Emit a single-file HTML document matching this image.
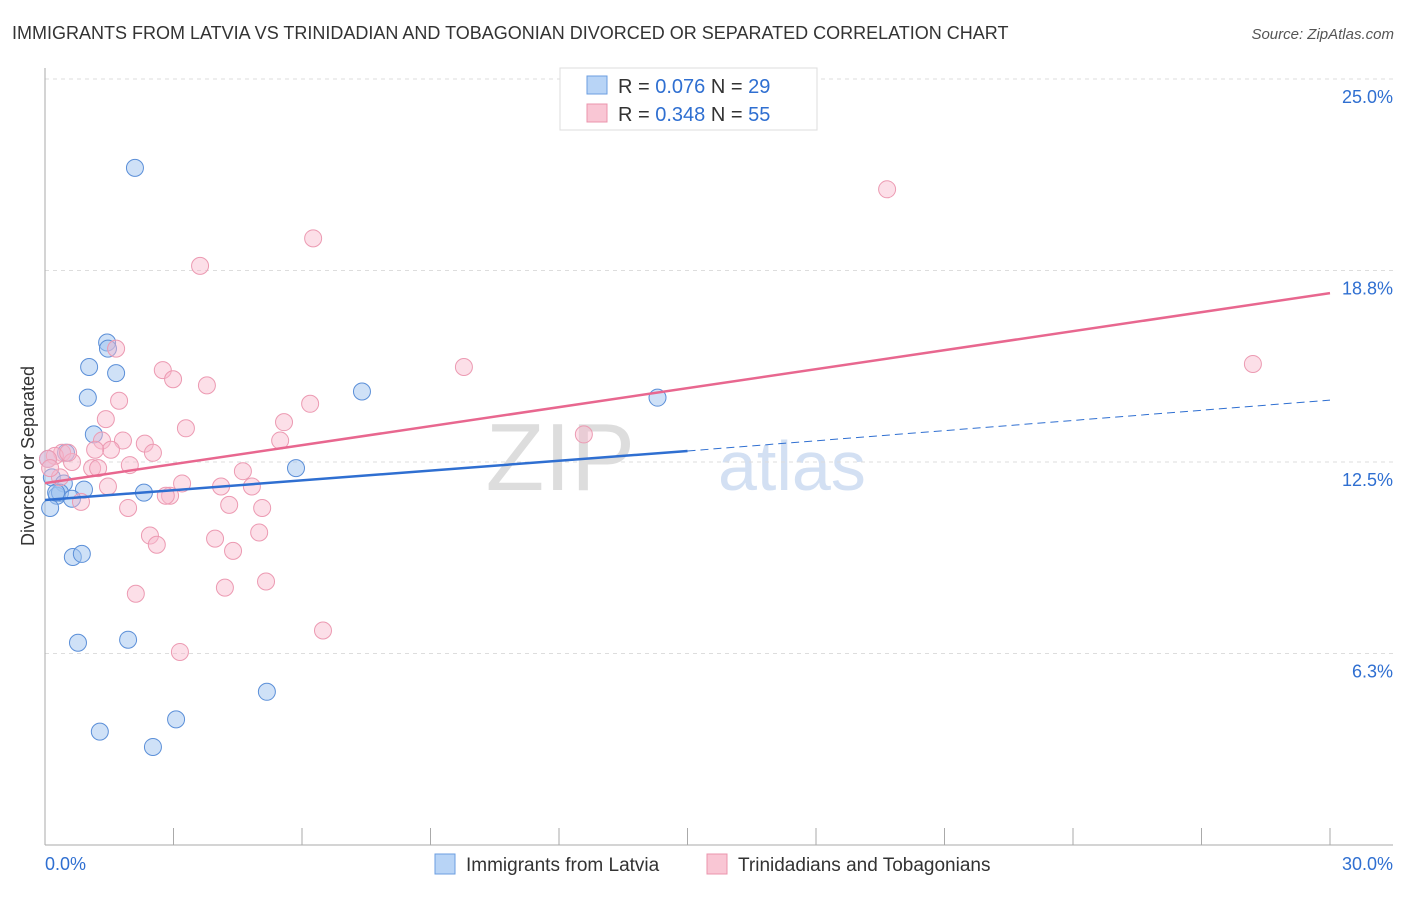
<!DOCTYPE html>
<html><head><meta charset="utf-8"><style>
body{margin:0;background:#fff;font-family:"Liberation Sans",sans-serif}
svg text{font-family:"Liberation Sans",sans-serif}
</style></head><body>
<svg id="c" width="1406" height="892" xmlns="http://www.w3.org/2000/svg">
<text x="12" y="39" font-size="18" fill="#333">IMMIGRANTS FROM LATVIA VS TRINIDADIAN AND TOBAGONIAN DIVORCED OR SEPARATED CORRELATION CHART</text>
<text x="1394" y="39" font-size="15" fill="#555" font-style="italic" text-anchor="end">Source: ZipAtlas.com</text>
<text x="0" y="0" font-size="18" fill="#333" transform="translate(34,456) rotate(-90)" text-anchor="middle">Divorced or Separated</text>
<text x="635" y="490" font-size="96" fill="#ddd" font-family="Liberation Serif" text-anchor="end">ZIP</text>
<text x="718" y="490" font-size="70" fill="#d3e0f3">atlas</text>
<g id="grid"></g><g id="axes"></g><g id="pts"></g><g id="lines"></g>
<g>
<rect x="560" y="68" width="257" height="62" fill="#fff" stroke="#ddd"/>
<rect x="587" y="76" width="20" height="18" fill="#b8d4f6" stroke="#6b9ee0"/>
<rect x="587" y="104" width="20" height="18" fill="#f9c6d4" stroke="#eb94ad"/>
<text x="618" y="93" font-size="20" fill="#333">R = <tspan fill="#2f6fd1">0.076</tspan>   N = <tspan fill="#2f6fd1">29</tspan></text>
<text x="618" y="121" font-size="20" fill="#333">R = <tspan fill="#2f6fd1">0.348</tspan>   N = <tspan fill="#2f6fd1">55</tspan></text>
</g>
<g>
<rect x="435" y="854" width="20" height="20" fill="#b8d4f6" stroke="#6b9ee0"/>
<text x="466" y="871" font-size="19" fill="#333">Immigrants from Latvia</text>
<rect x="707" y="854" width="20" height="20" fill="#f9c6d4" stroke="#eb94ad"/>
<text x="738" y="871" font-size="19" fill="#333">Trinidadians and Tobagonians</text>
</g>
</svg>
<script>
const yTicks=[6.25,12.5,18.75,25];
const yTickLabels=["6.3%","12.5%","18.8%","25.0%"];
const xTickLabels=["0.0%","30.0%"];
const blueX=[2.1,1.45,1.47,1.03,1.66,1.0,7.4,1.14,14.3,5.86,0.49,0.16,0.44,0.91,0.28,0.35,0.63,2.31,0.12,0.65,0.86,0.77,1.94,5.18,3.06,1.28,2.52,0.07,0.26];
const blueY=[22.1,16.4,16.2,15.6,15.4,14.6,14.8,13.4,14.6,12.3,12.8,12.0,11.8,11.6,11.4,11.5,11.3,11.5,11.0,9.4,9.5,6.6,6.7,5.0,4.1,3.7,3.2,12.6,11.5];
const pinkX=[19.66,6.26,3.62,1.66,9.78,28.2,2.75,2.99,3.78,1.73,6.19,1.42,3.29,5.58,1.33,1.82,2.33,5.49,2.52,1.54,1.17,0.4,0.23,0.07,0.63,1.98,1.1,1.24,4.62,0.35,3.2,4.11,4.83,2.92,2.82,0.84,4.3,1.94,5.07,2.45,5.0,2.61,3.97,4.39,5.16,4.2,2.12,6.49,3.15,12.58,0.54,0.12,1.47];
const pinkY=[21.4,19.8,18.9,16.2,15.6,15.7,15.5,15.2,15.0,14.5,14.4,13.9,13.6,13.8,13.2,13.2,13.1,13.2,12.8,12.9,12.9,12.8,12.7,12.6,12.5,12.4,12.3,12.3,12.2,12.0,11.8,11.7,11.7,11.4,11.4,11.2,11.1,11.0,11.0,10.1,10.2,9.8,10.0,9.6,8.6,8.4,8.2,7.0,6.3,13.4,12.8,12.3,11.7];
const blueLine=[11.26,12.86,14.52]; const blueLineX=[0,15,30];
const pinkLine=[11.81,18.01]; const pinkLineX=[0,30];
const NS="http://www.w3.org/2000/svg";
const X=v=>45+v*(1285/30), Y=v=>845-v*30.64;
function mk(tag,attrs,parent){const e=document.createElementNS(NS,tag);for(const k in attrs)e.setAttribute(k,attrs[k]);document.getElementById(parent).appendChild(e);return e;}
yTicks.forEach((t,i)=>{
 const g=mk('line',{x1:45,x2:1393,y1:Y(t),y2:Y(t),stroke:'#ddd','stroke-dasharray':'4,4'},'grid');
 
 
 const tx=mk('text',{x:1393,y:Y(t)+24,'font-size':18,fill:'#2f6fd1','text-anchor':'end'},'grid');
 tx.textContent=yTickLabels[i];
 
 
});
const ax=mk('line',{x1:45,x2:45,y1:68,y2:845,stroke:'#aaa'},'axes');


const bx=mk('line',{x1:45,x2:1393,y1:845,y2:845,stroke:'#aaa'},'axes');


for(let i=0;i<=10;i++){
 const t=mk('line',{x1:X(i*3),x2:X(i*3),y1:828,y2:845,stroke:'#aaa'},'axes');
 
 
}
[[0,'start'],[30,'end']].forEach((p,i)=>{
 const t=mk('text',{x:i?1393:45,y:870,'font-size':18,fill:'#2f6fd1','text-anchor':p[1]},'axes');
 t.textContent=xTickLabels[i];
 
 
});
blueX.forEach((x,i)=>{
 const c=mk('circle',{cx:X(x),cy:Y(blueY[i]),r:8.5,fill:'rgba(160,196,240,0.5)',stroke:'#5b8fd8','stroke-width':1},'pts');
 
 
});
pinkX.forEach((x,i)=>{
 const c=mk('circle',{cx:X(x),cy:Y(pinkY[i]),r:8.5,fill:'rgba(248,184,204,0.45)',stroke:'#ec9ab2','stroke-width':1},'pts');
 
 
});
const l1=mk('line',{x1:X(blueLineX[0]),y1:Y(blueLine[0]),x2:X(blueLineX[1]),y2:Y(blueLine[1]),stroke:'#2f6fd1','stroke-width':2.5},'lines');


const l2=mk('line',{x1:X(blueLineX[1]),y1:Y(blueLine[1]),x2:X(blueLineX[2]),y2:Y(blueLine[2]),stroke:'#2f6fd1','stroke-width':1,'stroke-dasharray':'8,5'},'lines');


const l3=mk('line',{x1:X(pinkLineX[0]),y1:Y(pinkLine[0]),x2:X(pinkLineX[1]),y2:Y(pinkLine[1]),stroke:'#e8678f','stroke-width':2.5},'lines');


</script>
</body></html>
